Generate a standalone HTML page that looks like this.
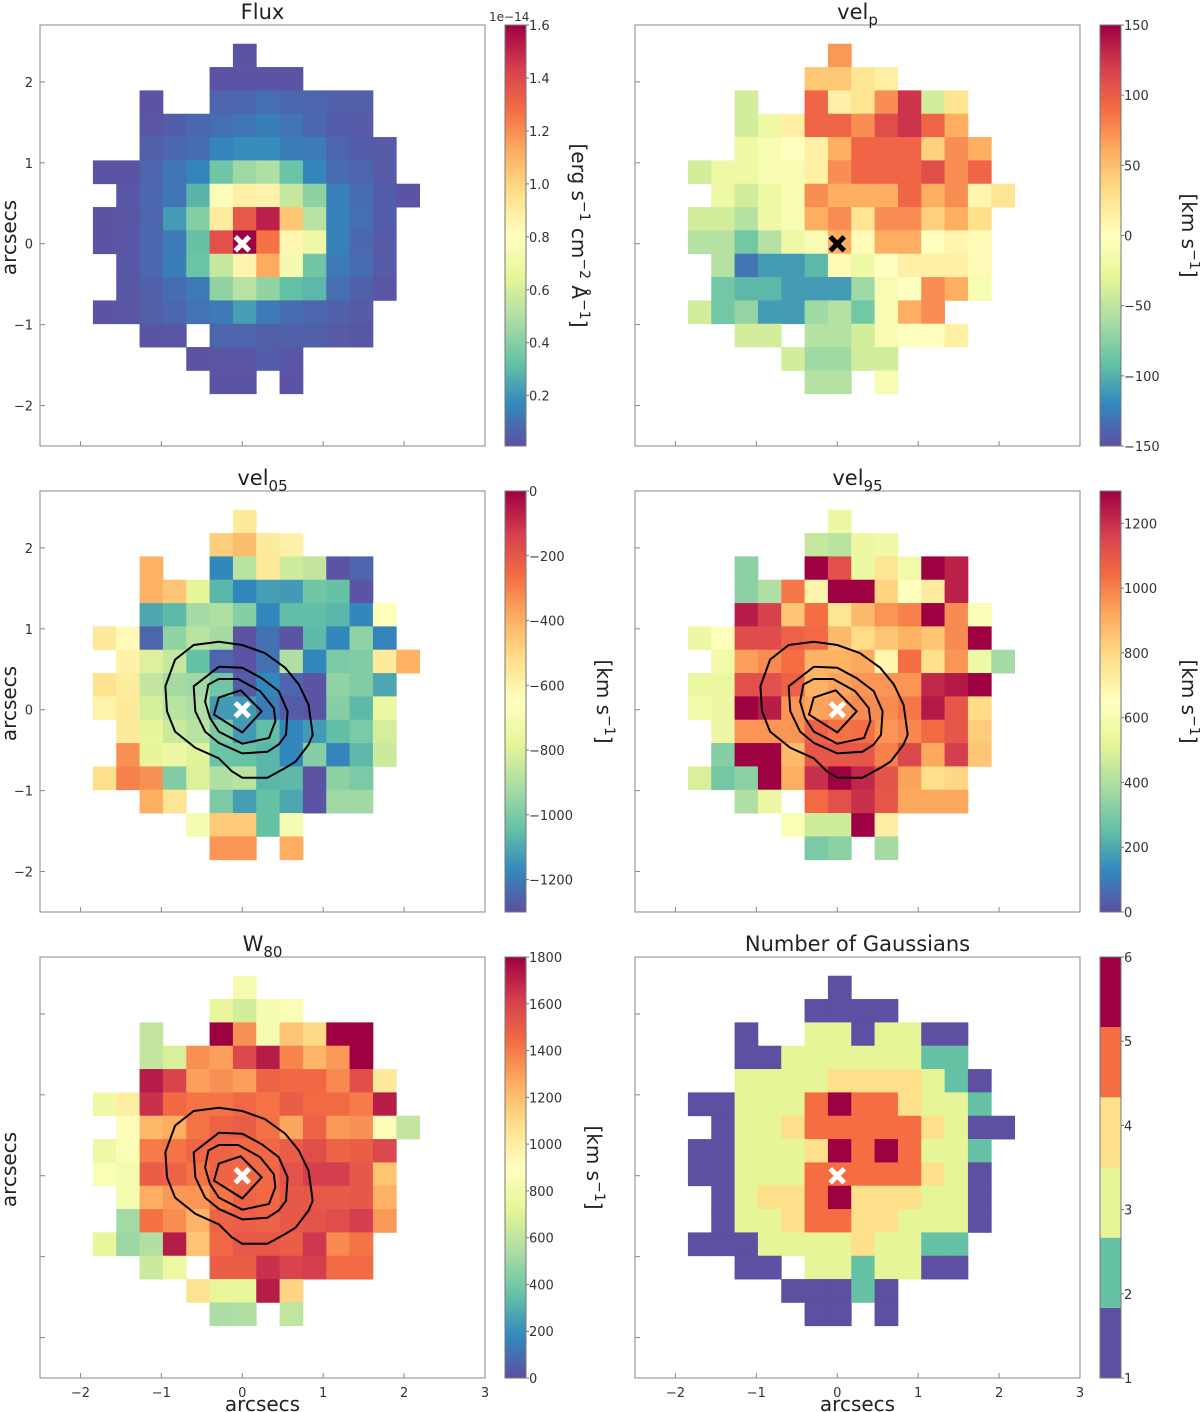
<!DOCTYPE html>
<html><head><meta charset="utf-8"><title>Maps</title>
<style>
html,body{margin:0;padding:0;background:#fff;}
svg{display:block;font-family:"DejaVu Sans","Liberation Sans",sans-serif;}
</style></head>
<body>
<svg id="fig" width="1200" height="1412" viewBox="0 0 1200 1412" xmlns="http://www.w3.org/2000/svg"></svg>
<script>
const n = null;
// ---- Flux (units 1e-15) ----
const fluxValues = [
[n,n,n,n,n,n,.2,n,n,n,n,n,n,n],
[n,n,n,n,n,.2,.2,.2,.2,n,n,n,n,n],
[n,n,.2,n,n,.7,.8,1.0,.8,.7,.6,.6,n,n],
[n,n,.3,.5,.8,1.0,1.2,1.4,1.1,.8,.5,.4,n,n],
[n,n,.6,.8,.9,1.6,1.8,1.8,1.4,1.3,.7,.5,.4,n],
[.2,.2,.7,1.2,1.6,3.5,4.6,5.0,3.4,1.6,.9,.7,.4,n],
[n,.3,.8,1.2,2.9,7.8,8.8,8.7,5.6,4.2,1.5,.9,.5,.2],
[.2,.3,.7,2.2,4.0,9.0,13.5,15.2,10.5,5.2,1.5,1.0,.5,n],
[.2,.3,.8,1.3,3.3,13.8,16,12.7,8.5,7.0,1.5,.8,.4,n],
[n,.3,.8,1.4,3.4,5.6,8.6,11.3,7.3,3.5,1.3,.9,.4,n],
[n,.3,.6,.9,1.3,4.3,5.2,4.3,3.2,3.0,1.0,.6,.3,n],
[.2,.3,.6,.8,1.1,1.3,2.3,1.3,.9,.7,.6,.4,n,n],
[n,n,.2,.3,n,.7,.7,.6,.6,.6,.4,.3,n,n],
[n,n,n,n,.2,.3,.3,.5,.3,n,n,n,n,n],
[n,n,n,n,n,.2,.2,n,.2,n,n,n,n,n]];
const fluxTicks = [2,4,6,8,10,12,14,16];
const fluxTickLabels = ['0.2','0.4','0.6','0.8','1.0','1.2','1.4','1.6'];
// ---- vel_p ----
const velpValues = [
[n,n,n,n,n,n,70,n,n,n,n,n,n,n],
[n,n,n,n,n,45,45,25,15,n,n,n,n,n],
[n,n,-40,n,n,95,15,25,75,125,-40,25,n,n],
[n,n,-40,-20,15,95,95,75,110,125,95,60,n,n],
[n,n,-20,-10,0,15,60,95,95,95,40,75,60,n],
[-40,-20,-20,-10,-10,15,75,95,95,95,110,75,95,n],
[n,-20,-40,-20,-10,75,60,60,60,95,60,75,10,25],
[-40,-40,-55,-20,-10,60,75,25,75,75,40,60,30,n],
[-55,-55,-85,-55,-20,-10,60,5,60,60,0,10,5,n],
[n,-55,-130,-110,-110,-95,5,-20,0,15,15,15,5,n],
[n,-85,-95,-95,-110,-110,-110,-65,-10,0,75,60,-10,n],
[-40,-85,-70,-110,-110,-65,-55,-85,-10,60,75,n,n,n],
[n,n,-40,-40,n,-55,-55,-40,-10,0,0,15,n,n],
[n,n,n,n,-40,-65,-65,-40,-40,n,n,n,n,n],
[n,n,n,n,n,-55,-55,n,-10,n,n,n,n,n]];
const velpTicks = [-150,-100,-50,0,50,100,150];
// ---- vel05 ----
const vel05Values = [
[n,n,n,n,n,n,-560,n,n,n,n,n,n,n],
[n,n,n,n,n,-470,-430,-560,-590,n,n,n,n,n],
[n,n,-400,n,n,-1170,-880,-560,-830,-860,-1290,-1250,n,n],
[n,n,-400,-450,-780,-1070,-1170,-1120,-1130,-1020,-1040,-1290,n,n],
[n,n,-1100,-1060,-920,-900,-980,-1170,-1050,-1050,-1070,-1170,-640,n],
[-560,-630,-1250,-960,-880,-920,-1290,-1220,-1290,-1060,-1170,-960,-1180,n],
[n,-590,-800,-850,-1040,-1250,-1290,-1220,-900,-1170,-1000,-990,-560,-400],
[-530,-570,-860,-920,-930,-1020,-1270,-1170,-1250,-1290,-960,-990,-1100,n],
[-600,-560,-820,-880,-900,-1130,-1130,-1200,-1270,-1290,-980,-1060,-750,n],
[n,-560,-770,-840,-880,-1000,-1130,-1050,-1170,-1130,-1050,-1000,-820,n],
[n,-330,-770,-740,-790,-1030,-1040,-1070,-1170,-980,-1180,-1060,-840,n],
[-520,-300,-330,-990,-800,-900,-880,-1070,-1060,-1290,-970,-1000,n,n],
[n,n,-390,-540,n,-1000,-1120,-1040,-1100,-1290,-930,-930,n,n],
[n,n,n,n,-700,-460,-460,-1040,-700,n,n,n,n,n],
[n,n,n,n,n,-340,-340,n,-390,n,n,n,n,n]];
const vel05Ticks = [-1200,-1000,-800,-600,-400,-200,0];
// ---- vel95 ----
const vel95Values = [
[n,n,n,n,n,n,560,n,n,n,n,n,n,n],
[n,n,n,n,n,450,420,560,570,n,n,n,n,n],
[n,n,330,n,n,1300,1120,560,760,580,1300,1230,n,n],
[n,n,330,400,1020,700,1300,1300,810,650,730,1230,n,n],
[n,n,1240,1160,850,1040,760,880,960,1000,1300,980,620,n],
[560,640,1130,1130,1070,1050,880,790,850,900,850,980,1300,n],
[n,580,940,980,1040,900,900,920,690,1040,780,960,570,380],
[550,550,1120,1120,1070,900,930,960,960,960,1220,1250,1300,n],
[580,560,1300,1240,960,930,950,980,980,1020,1250,1100,790,n],
[n,560,960,960,960,1070,1030,1040,960,990,1050,1100,830,n],
[n,320,1300,1300,880,1100,1100,1100,1000,1140,920,1170,850,n],
[490,290,330,1300,910,1200,1300,1220,1110,930,780,800,n,n],
[n,n,400,560,n,1050,1120,1200,1100,920,920,920,n,n],
[n,n,n,n,620,470,470,1300,720,n,n,n,n,n],
[n,n,n,n,n,300,330,n,380,n,n,n,n,n]];
const vel95Ticks = [0,200,400,600,800,1000,1200];
// ---- W80 ----
const w80Values = [
[n,n,n,n,n,n,820,n,n,n,n,n,n,n],
[n,n,n,n,n,740,660,830,860,n,n,n,n,n],
[n,n,610,n,n,1800,1340,830,1180,1100,1800,1800,n,n],
[n,n,610,680,1340,1300,1580,1720,1380,1240,1320,1800,n,n],
[n,n,1720,1600,1300,1340,1300,1480,1460,1460,1360,1560,1020,n],
[800,1000,1660,1460,1420,1420,1460,1420,1500,1450,1450,1400,1720,n],
[n,920,1220,1260,1420,1480,1500,1430,1280,1480,1320,1340,920,610],
[780,860,1400,1420,1470,1480,1460,1460,1500,1560,1480,1500,1580,n],
[860,820,1500,1480,1420,1480,1460,1460,1540,1620,1620,1520,1180,n],
[n,820,1260,1320,1330,1420,1480,1460,1520,1520,1510,1520,1250,n],
[n,520,1430,1350,1240,1480,1490,1480,1520,1540,1560,1620,1320,n],
[740,500,560,1720,1180,1460,1520,1520,1500,1640,1360,1420,n,n],
[n,n,640,780,n,1500,1500,1660,1600,1620,1450,1450,n,n],
[n,n,n,n,1060,740,740,1720,1120,n,n,n,n,n],
[n,n,n,n,n,540,560,n,600,n,n,n,n,n]];
const w80Ticks = [0,200,400,600,800,1000,1200,1400,1600,1800];
// ---- Number of Gaussians ----
const ngValues = [
[n,n,n,n,n,n,1,n,n,n,n,n,n,n],
[n,n,n,n,n,1,1,1,1,n,n,n,n,n],
[n,n,1,n,n,3,3,1,3,3,1,1,n,n],
[n,n,1,1,3,3,3,3,3,3,2,2,n,n],
[n,n,3,3,3,3,4,4,4,4,3,2,1,n],
[1,1,3,3,3,5,6,5,5,4,3,3,2,n],
[n,1,3,3,4,5,5,5,5,5,4,3,1,1],
[1,1,3,3,3,4,6,5,6,5,3,3,2,n],
[1,1,3,3,3,5,5,5,5,5,4,3,1,n],
[n,1,3,4,4,5,6,4,4,4,3,3,1,n],
[n,1,3,3,4,5,5,4,4,3,3,3,1,n],
[1,1,1,3,3,3,3,4,3,3,2,2,n,n],
[n,n,1,1,n,3,3,2,3,3,1,1,n,n],
[n,n,n,n,1,1,1,2,1,n,n,n,n,n],
[n,n,n,n,n,1,1,n,1,n,n,n,n,n]];
const ngTicks = [1,2,3,4,5,6];
// ---- contours (arcsec) ----
const contour1 = [[-0.60,0.80],[-0.29,0.84],[0.00,0.80],[0.28,0.70],[0.53,0.52],[0.70,0.31],[0.82,0.06],[0.87,-0.31],[0.82,-0.43],[0.66,-0.64],[0.53,-0.72],[0.31,-0.84],[0.00,-0.84],[-0.13,-0.76],[-0.29,-0.60],[-0.58,-0.47],[-0.83,-0.27],[-0.93,-0.02],[-0.95,0.29],[-0.83,0.62]];
const contour2 = [[-0.60,0.29],[-0.29,0.53],[0.00,0.52],[0.24,0.39],[0.45,0.23],[0.56,-0.02],[0.54,-0.31],[0.45,-0.43],[0.31,-0.52],[0.00,-0.54],[-0.29,-0.41],[-0.46,-0.27],[-0.58,-0.02]];
const contour3 = [[-0.42,0.31],[-0.29,0.38],[-0.05,0.38],[0.22,0.23],[0.39,0.02],[0.41,-0.14],[0.33,-0.35],[0.00,-0.42],[-0.29,-0.27],[-0.40,-0.10],[-0.46,0.10]];
const contour4 = [[-0.29,0.15],[-0.02,0.24],[0.24,-0.02],[0.00,-0.28],[-0.35,-0.06]];
const contours = [contour1,contour2,contour3,contour4];
const axisTicks = [-2,-1,0,1,2];
const xTickVals = [-2,-1,0,1,2,3];

// ---- colormaps ----
const spectral = ['#5e4fa2','#3288bd','#66c2a5','#abdda4','#e6f598','#ffffbf','#fee08b','#fdae61','#f46d43','#d53e4f','#9e0142'];
function hex(h){return [parseInt(h.slice(1,3),16),parseInt(h.slice(3,5),16),parseInt(h.slice(5,7),16)];}
function cmap(t){
  t=Math.max(0,Math.min(1,t));
  const p=t*10, i=Math.min(9,Math.floor(p)), f=p-i;
  const a=hex(spectral[i]), b=hex(spectral[i+1]);
  return 'rgb('+a.map((v,k)=>Math.round(v+(b[k]-v)*f)).join(',')+')';
}
const discrete = ['#5e4fa2','#66c2a5','#e6f598','#fee08b','#f46d43','#9e0142'];

const NS='http://www.w3.org/2000/svg';
const svg=document.getElementById('fig');
function el(tag,attrs,parent){const e=document.createElementNS(NS,tag);for(const k in attrs)e.setAttribute(k,attrs[k]);(parent||svg).appendChild(e);return e;}

const W=445,H=421,S=445/5.5;
const XMIN=-2.5, YMAX=-2.5+H/S;
const C0X=-1.846, R0Y=2.472, CELL=0.2884;

function drawPanel(o){
  const g=el('g',{});
  
  
  const xs=a=>o.x0+(a-XMIN)*S;
  const ys=a=>o.y0+(YMAX-a)*S;
  // cells
  o.data.forEach((row,r)=>row.forEach((v,c)=>{
    if(v===null) return;
    const x1=xs(C0X+c*CELL), x2=xs(C0X+(c+1)*CELL);
    const y1=ys(R0Y-r*CELL), y2=ys(R0Y-(r+1)*CELL);
    const rc=el('rect',{x:x1,y:y1,width:x2-x1+0.4,height:y2-y1+0.4,fill:o.color(v)},g);
    
    
  }));
  // contours
  if(o.contours){
    contours.forEach(cn=>{
      const pts=cn.map(p=>xs(p[0]).toFixed(1)+','+ys(p[1]).toFixed(1)).join(' ');
      const pl=el('polygon',{points:pts,fill:'none',stroke:'#000','stroke-width':2},g);
      
      
    });
  }
  // marker
  const mx=xs(0),my=ys(0),d=7;
  const mk=el('g',{stroke:o.markerColor,'stroke-width':5},g);
  
  
  el('line',{x1:mx-d,y1:my-d,x2:mx+d,y2:my+d},mk);
  el('line',{x1:mx-d,y1:my+d,x2:mx+d,y2:my-d},mk);
  // frame
  const fr=el('rect',{x:o.x0,y:o.y0,width:W,height:H,fill:'none',stroke:'#888','stroke-width':1},g);
  
  
  // ticks
  axisTicks.forEach(t=>{
    el('line',{x1:o.x0,x2:o.x0+5,y1:ys(t),y2:ys(t),stroke:'#888'},g);
    if(o.yLabels){
      const tl=el('text',{x:o.x0-7,y:ys(t)+5,'text-anchor':'end','font-size':13,fill:'#333'},g);
      tl.textContent=(t<0?'\u2212':'')+Math.abs(t);
      
      
    }
  });
  xTickVals.forEach(t=>{
    el('line',{x1:xs(t),x2:xs(t),y1:o.y0+H,y2:o.y0+H-5,stroke:'#888'},g);
    if(o.xLabels){
      const tl=el('text',{x:xs(t),y:o.y0+H+19,'text-anchor':'middle','font-size':13,fill:'#333'},g);
      tl.textContent=(t<0?'\u2212':'')+Math.abs(t);
      
      
    }
  });
  if(o.xLabels){
    const xl=el('text',{x:o.x0+W/2,y:o.y0+H+33,'text-anchor':'middle','font-size':20,fill:'#222'},g);
    xl.textContent='arcsecs';
    
    
  }
  if(o.yTitle){
    const yl=el('text',{x:0,y:0,'text-anchor':'middle','font-size':20,fill:'#222',transform:'translate(16,'+(o.y0+H/2+2)+') rotate(-90)'},g);
    yl.textContent='arcsecs';
    
    
  }
  // title
  const tt=el('text',{x:o.x0+W/2,y:o.y0-6,'text-anchor':'middle','font-size':21,fill:'#222'},g);
  
  
  const m=el('tspan',{},tt); m.textContent=o.title;
  if(o.sub){const s=el('tspan',{dy:6,'font-size':15},tt); s.textContent=o.sub;}
  // colorbar
  const cx=o.x0+465, cw=21;
  const cb=el('g',{},g);
  
  
  const cy=v=>o.y0+H-(v-o.vmin)/(o.vmax-o.vmin)*H;
  if(o.discrete){
    discrete.forEach((col,i)=>{
      const vlo=o.vmin+i*(o.vmax-o.vmin)/6, vhi=o.vmin+(i+1)*(o.vmax-o.vmin)/6;
      el('rect',{x:cx,y:cy(vhi),width:cw,height:cy(vlo)-cy(vhi),fill:col},cb);
    });
  } else {
    const N=140;
    for(let i=0;i<N;i++){
      el('rect',{x:cx,y:o.y0+H-(i+1)*H/N,width:cw,height:H/N+0.5,fill:cmap((i+0.5)/N)},cb);
    }
  }
  el('rect',{x:cx,y:o.y0,width:cw,height:H,fill:'none',stroke:'#777'},cb);
  o.ticks.forEach((t,i)=>{
    el('line',{x1:cx+cw,x2:cx+cw+3,y1:cy(t),y2:cy(t),stroke:'#777'},cb);
    const tl=el('text',{x:cx+cw+3,y:cy(t)+5,'font-size':13,fill:'#333'},cb);
    tl.textContent=o.tickLabels?o.tickLabels[i]:((t<0?'\u2212':'')+Math.abs(t));
    
    
  });
  if(o.cbLabel){
    const lx=o.cbLabelX, ly=o.y0+H/2;
    const lab=el('text',{x:0,y:0,'text-anchor':'middle','font-size':20,fill:'#222',transform:'translate('+lx+','+ly+') rotate(90)'},cb);
    
    
    o.cbLabel.forEach(part=>{
      const ts=el('tspan',part[1]?{dy:-8,'font-size':14}:{dy:part[2]||0},lab);
      ts.textContent=part[0];
    });
  }
}
const kmLabel=[['[km s'],['\u22121',true],[']',false,8]];
const xL=40, xR=635, r1=25, r2=491, r3=957;
drawPanel({name:'flux',x0:xL,y0:r1,data:fluxValues,vmin:0.1,vmax:16,color:v=>cmap((v-0.1)/15.9),ticks:fluxTicks,tickLabels:fluxTickLabels,title:'Flux',markerColor:'#fff',yLabels:true,yTitle:true,
  cbLabel:[['[erg s'],['\u22121',true],[' cm',false,8],['\u22122',true],[' \u00c5',false,8],['\u22121',true],[']',false,8]],cbLabelX:572});
drawPanel({name:'vel-p',x0:xR,y0:r1,data:velpValues,vmin:-150,vmax:150,color:v=>cmap((v+150)/300),ticks:velpTicks,title:'vel',sub:'p',markerColor:'#000',cbLabel:kmLabel,cbLabelX:1182});
drawPanel({name:'vel-05',x0:xL,y0:r2,data:vel05Values,vmin:-1300,vmax:0,color:v=>cmap((v+1300)/1300),ticks:vel05Ticks,title:'vel',sub:'05',markerColor:'#fff',yLabels:true,yTitle:true,contours:true,cbLabel:kmLabel,cbLabelX:597});
drawPanel({name:'vel-95',x0:xR,y0:r2,data:vel95Values,vmin:0,vmax:1300,color:v=>cmap(v/1300),ticks:vel95Ticks,title:'vel',sub:'95',markerColor:'#fff',contours:true,cbLabel:kmLabel,cbLabelX:1182});
drawPanel({name:'w80',x0:xL,y0:r3,data:w80Values,vmin:0,vmax:1800,color:v=>cmap(v/1800),ticks:w80Ticks,title:'W',sub:'80',markerColor:'#fff',yTitle:true,xLabels:true,contours:true,cbLabel:kmLabel,cbLabelX:587});
drawPanel({name:'n-gaussians',x0:xR,y0:r3,data:ngValues,vmin:1,vmax:6,discrete:true,color:v=>discrete[v-1],ticks:ngTicks,title:'Number of Gaussians',markerColor:'#fff',xLabels:true});
const ex=el('text',{x:489,y:21,'font-size':12,fill:'#333'});
ex.textContent='1e\u221214';


</script>
</body></html>
